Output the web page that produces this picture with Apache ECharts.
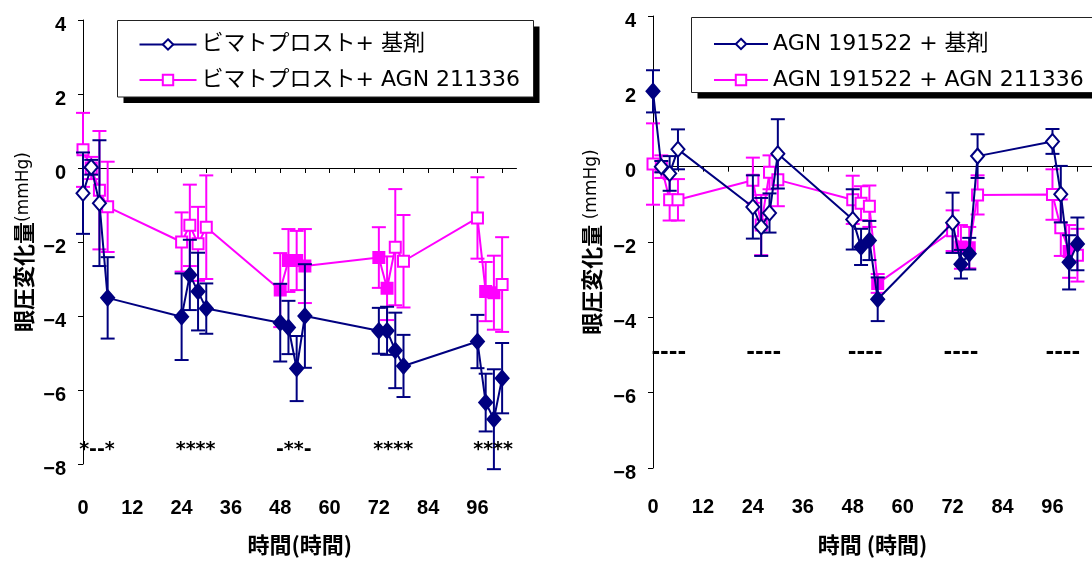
<!DOCTYPE html>
<html>
<head>
<meta charset="utf-8">
<script src="https://cdn.jsdelivr.net/npm/echarts@6/dist/echarts.min.js"></script>
<style>
  html, body { margin: 0; padding: 0; background: #fff; }
  #chart { width: 1092px; height: 561px; }
</style>
</head>
<body>
<div id="chart"></div>
<script>
// Sampling times (hours after dosing)
const hours = [0, 2, 4, 6, 24, 26, 28, 30, 48, 50, 52, 54, 72, 74, 76, 78, 96, 98, 100, 102];

// Left panel: bimatoprost
const leftNames = ['ビマトプロスト+ 基剤', 'ビマトプロスト+ AGN 211336'];
const leftVehicleMean = [-0.68, 0.02, -0.95, -3.51, -4.02, -2.89, -3.34, -3.80, -4.18, -4.31, -5.42, -4.00, -4.40, -4.40, -4.93, -5.35, -4.69, -6.34, -6.79, -5.68];
const leftVehicleErr  = [1.10, 0.20, 1.70, 1.10, 1.17, 0.95, 1.05, 0.68, 1.05, 0.72, 0.88, 1.40, 0.62, 0.65, 1.02, 0.84, 0.72, 0.78, 1.35, 0.95];
const leftVehicleSig  = [0, 0, 0, 1, 1, 1, 1, 1, 1, 1, 1, 1, 1, 1, 1, 1, 1, 1, 1, 1];
const leftComboMean = [0.49, 0.00, -0.60, -1.05, -2.00, -1.55, -2.05, -1.60, -3.30, -2.50, -2.50, -2.65, -2.42, -3.25, -2.14, -2.52, -1.35, -3.34, -3.37, -3.15];
const leftComboErr  = [1.00, 0.30, 1.60, 1.22, 0.80, 1.10, 1.00, 1.40, 1.00, 0.85, 0.80, 1.00, 0.82, 0.86, 1.57, 1.25, 1.10, 0.80, 1.00, 1.28];
const leftComboSig  = [0, 0, 0, 0, 0, 0, 0, 0, 1, 1, 1, 1, 1, 1, 0, 0, 0, 1, 1, 0];
const leftNoteX = [3.4, 27.4, 51.3, 75.5, 99.8];
const leftNoteText = ['*--*', '****', '-**-', '****', '****'];
const leftNoteY = -7.62;

// Right panel: AGN 191522
const rightNames = ['AGN 191522 + 基剤', 'AGN 191522 + AGN 211336'];
const rightVehicleMean = [2.00, 0.00, -0.18, 0.46, -1.07, -1.60, -1.23, 0.34, -1.40, -2.13, -1.96, -3.52, -1.49, -2.59, -2.31, 0.28, 0.67, -0.73, -2.54, -2.05];
const rightVehicleErr  = [0.56, 0.15, 0.46, 0.53, 0.84, 0.77, 0.52, 0.92, 0.80, 0.48, 0.52, 0.58, 0.80, 0.38, 0.42, 0.58, 0.33, 0.75, 0.72, 0.70];
const rightVehicleSig  = [1, 0, 0, 0, 0, 0, 0, 0, 0, 1, 1, 1, 0, 1, 1, 0, 0, 0, 1, 1];
const rightComboMean = [0.07, 0.00, -0.88, -0.88, -0.36, -1.55, -0.15, -0.35, -0.88, -0.97, -1.05, -3.10, -1.70, -2.13, -2.15, -0.75, -0.74, -1.62, -2.25, -2.35];
const rightComboErr  = [1.08, 0.30, 0.55, 0.55, 0.60, 0.80, 0.45, 0.70, 0.64, 0.45, 0.55, 0.25, 0.54, 0.58, 0.55, 0.52, 0.67, 0.75, 0.70, 0.70];
const rightComboSig  = [0, 0, 0, 0, 0, 0, 0, 0, 0, 0, 0, 1, 0, 1, 1, 0, 0, 0, 1, 0];
const rightNoteX = [3.8, 26.6, 51.0, 74.0, 98.5];
const rightNoteText = ['----', '----', '----', '----', '----'];
const rightNoteY = -4.95;

// Axis ticks
const xLabelValues = [0, 12, 24, 36, 48, 60, 72, 84, 96];
const xTickValues = [0, 6, 12, 18, 24, 30, 36, 42, 48, 54, 60, 66, 72, 78, 84, 90, 96, 102];

const NAVY = '#000080';
const PINK = '#FF00FF';
const UI_FONT = "'DejaVu Sans', 'Noto Sans CJK JP', sans-serif";
const CJK_FONT = "'Noto Sans CJK JP', sans-serif";
const NUM_FONT = "'Liberation Sans', Arial, sans-serif";

// Vertical error bar with caps at mean ± err
function errorBars(params, api) {
  const x = api.value(0), m = api.value(1), e = api.value(2);
  const hi = api.coord([x, m + e]);
  const lo = api.coord([x, m - e]);
  const w = 7;
  const style = { stroke: api.visual('color'), lineWidth: 2 };
  return {
    type: 'group',
    children: [
      { type: 'line', shape: { x1: hi[0], y1: hi[1], x2: lo[0], y2: lo[1] }, style },
      { type: 'line', shape: { x1: hi[0] - w, y1: hi[1], x2: hi[0] + w, y2: hi[1] }, style },
      { type: 'line', shape: { x1: lo[0] - w, y1: lo[1], x2: lo[0] + w, y2: lo[1] }, style }
    ]
  };
}

function barSeries(idx, mean, err, color, z) {
  return {
    type: 'custom', xAxisIndex: idx, yAxisIndex: idx, z,
    itemStyle: { color },
    renderItem: errorBars,
    encode: { x: 0, y: 1 },
    data: hours.map((t, i) => [t, mean[i], err[i]]),
    silent: true
  };
}

// Mean line; filled markers flag significant time points
function lineSeries(idx, name, mean, sig, color, symbol, size, z) {
  return {
    type: 'line', name, xAxisIndex: idx, yAxisIndex: idx, z,
    symbol, symbolSize: size, showAllSymbol: true,
    lineStyle: { color, width: 2 },
    itemStyle: { color: '#fff', borderColor: color, borderWidth: 2 },
    emphasis: { disabled: true },
    data: hours.map((t, i) => ({
      value: [t, mean[i]],
      itemStyle: sig[i] ? { color, borderColor: color } : { color: '#fff', borderColor: color }
    }))
  };
}

function noteSeries(idx, xs, texts, y, fontSize) {
  return {
    type: 'custom', xAxisIndex: idx, yAxisIndex: idx, z: 10, silent: true,
    encode: { x: 0, y: 1 },
    data: xs.map(x => [x, y]),
    renderItem: (params, api) => {
      const p = api.coord([api.value(0), api.value(1)]);
      return {
        type: 'text', x: p[0], y: p[1],
        style: {
          text: texts[params.dataIndex], fill: '#000',
          font: 'bold ' + fontSize + 'px ' + UI_FONT,
          align: 'center', verticalAlign: 'middle'
        }
      };
    }
  };
}

function xAxis(idx, name, labelMargin, nameGap) {
  return {
    type: 'value', gridIndex: idx, min: 0, max: 105.5, interval: 6,
    name, nameLocation: 'middle', nameGap,
    nameTextStyle: { fontFamily: CJK_FONT, fontWeight: 'bold', fontSize: 22, color: '#000' },
    axisLine: { lineStyle: { color: '#000', width: 1 } },
    axisTick: { show: true, length: 5, inside: false, customValues: xTickValues, lineStyle: { color: '#000' } },
    axisLabel: {
      customValues: xLabelValues, margin: labelMargin,
      fontFamily: NUM_FONT, fontWeight: 'bold', fontSize: 20, color: '#000',
      formatter: v => (v % 12 === 0 && v <= 96 ? String(v) : '')
    },
    splitLine: { show: false }
  };
}

function yAxis(idx, unit, nameGap) {
  return {
    type: 'value', gridIndex: idx, min: -8, max: 4, interval: 2,
    name: '{a|眼圧変化量}{b|' + unit + '}', nameLocation: 'middle', nameGap,
    nameTextStyle: {
      color: '#000',
      rich: {
        a: { fontFamily: CJK_FONT, fontWeight: 'bold', fontSize: 22, color: '#000' },
        b: { fontFamily: UI_FONT, fontSize: 17, color: '#000' }
      }
    },
    axisLine: { show: true, lineStyle: { color: '#000', width: 1 } },
    axisTick: { show: true, length: 5, inside: false, lineStyle: { color: '#000' } },
    axisLabel: {
      margin: 17, verticalAlign: 'top', lineHeight: 10,
      fontFamily: NUM_FONT, fontWeight: 'bold', fontSize: 20, color: '#000',
      formatter: v => String(v).replace('-', '\u2212')
    },
    splitLine: { show: false }
  };
}

function legend(names, left, top, itemWidth, padding, gap) {
  return {
    data: names, orient: 'vertical', left, top,
    itemWidth, itemHeight: 13, itemGap: gap, padding,
    selectedMode: false, z: 6,
    textStyle: { fontFamily: UI_FONT, fontSize: 22, color: '#000' }
  };
}

// Legend frame with a solid offset shadow
function legendFrame(x, y, w, h) {
  return [
    { type: 'rect', z: 1, silent: true, shape: { x: x + 6, y: y + 6, width: w, height: h }, style: { fill: '#000' } },
    { type: 'rect', z: 2, silent: true, shape: { x, y, width: w, height: h }, style: { fill: '#fff', stroke: '#222', lineWidth: 1 } }
  ];
}

const chart = echarts.init(document.getElementById('chart'), null, { renderer: 'canvas' });
chart.setOption({
  animation: false,
  backgroundColor: '#fff',
  graphic: legendFrame(117.5, 20.5, 416, 76.5).concat(legendFrame(691.5, 17.5, 420, 75)),
  grid: [
    { left: 83, top: 20, width: 433.5, height: 452.5 },
    { left: 653, top: 16, width: 440, height: 462 }
  ],
  xAxis: [xAxis(0, '時間(時間)', 34, 70), xAxis(1, '時間 (時間)', 29, 66)],
  yAxis: [yAxis(0, '(mmHg)', 48), yAxis(1, ' (mmHg)', 50)],
  legend: [
    legend(leftNames, 117.5, 20.5, 57, [13, 17, 10, 21], 13.5),
    legend(rightNames, 691, 17.5, 54, [15.5, 17, 10, 22], 14)
  ],
  series: [
    barSeries(0, leftComboMean, leftComboErr, PINK, 2),
    lineSeries(0, leftNames[1], leftComboMean, leftComboSig, PINK, 'rect', 11, 3),
    barSeries(0, leftVehicleMean, leftVehicleErr, NAVY, 4),
    lineSeries(0, leftNames[0], leftVehicleMean, leftVehicleSig, NAVY, 'diamond', [13, 15], 5),
    noteSeries(0, leftNoteX, leftNoteText, leftNoteY, 19),

    barSeries(1, rightComboMean, rightComboErr, PINK, 2),
    lineSeries(1, rightNames[1], rightComboMean, rightComboSig, PINK, 'rect', 11, 3),
    barSeries(1, rightVehicleMean, rightVehicleErr, NAVY, 4),
    lineSeries(1, rightNames[0], rightVehicleMean, rightVehicleSig, NAVY, 'diamond', [13, 15], 5),
    noteSeries(1, rightNoteX, rightNoteText, rightNoteY, 21)
  ]
});
</script>
</body>
</html>
